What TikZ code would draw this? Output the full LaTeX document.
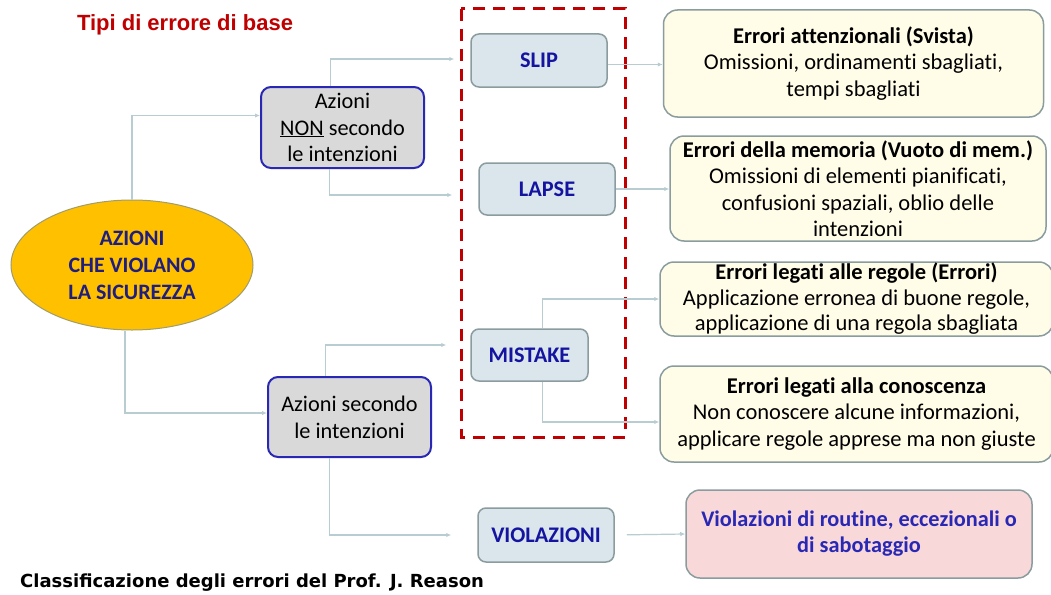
\documentclass[tikz,border=0pt]{standalone}
\usepackage{fontspec}
\setmainfont{Carlito}[Ligatures=NoCommon]
\newfontfamily\arialfont{Liberation Sans}
\newfontfamily\verdanafont{DejaVu Sans}
\usetikzlibrary{shapes.geometric,arrows.meta}

\definecolor{linkgray}{HTML}{B7CDD2}
\definecolor{boxedge}{HTML}{8A9C9E}
\definecolor{kindfill}{HTML}{DAE5EC}
\definecolor{kindblue}{HTML}{1414A0}
\definecolor{creamfill}{HTML}{FFFDE8}
\definecolor{pinkfill}{HTML}{F9D8DA}
\definecolor{actgray}{HTML}{D9D9D9}
\definecolor{actblue}{HTML}{2828B4}
\definecolor{safetyfill}{HTML}{FFC000}
\definecolor{safetyedge}{HTML}{A09C6C}
\definecolor{navytext}{HTML}{1E1E80}
\definecolor{darkred}{HTML}{C00000}

\begin{document}
\begin{tikzpicture}[x=1pt,y=-1pt,
    conn/.style={draw=linkgray,line width=1.2pt,-{Latex[length=5pt,width=4.5pt]}},
    kindbox/.style={draw=boxedge,fill=kindfill,line width=1.5pt,rounded corners=8pt,
      inner sep=0pt,text=kindblue,font=\fontsize{22.3}{26}\selectfont\bfseries},
    descbox/.style={draw=boxedge,fill=creamfill,line width=1.5pt,rounded corners=14pt,
      inner sep=0pt,align=center,font=\fontsize{22.5}{26.5}\selectfont},
    actbox/.style={draw=actblue,fill=actgray,line width=2pt,rounded corners=10pt,
      inner sep=0pt,align=center,font=\fontsize{22.3}{26.8}\selectfont}]
    \useasboundingbox[fill=white] (0,0) rectangle (1051,594);

    % Title and caption
    \node[text=darkred,font=\arialfont\fontsize{22}{26}\selectfont\bfseries] (title) at (185,25) {Tipi di errore di base};
    \node[anchor=west,inner sep=0pt,font=\verdanafont\fontsize{18}{21}\selectfont\bfseries] (caption) at (20,583) {Classificazione degli errori del Prof. J. Reason};

    % Dashed frame round the error kinds
    \draw[darkred,line width=3pt,dash pattern=on 12pt off 8pt] (461,9) rectangle (625,437);

    % Root and the two kinds of action
    \node[ellipse,draw=safetyedge,fill=safetyfill,line width=1pt,minimum width=242pt,minimum height=130pt,
      inner sep=0pt,align=center,text=navytext,font=\fontsize{22}{27}\selectfont\bfseries] (safety) at (132,265)
      {AZIONI\\CHE VIOLANO\\LA SICUREZZA};
    \node[actbox,minimum width=163pt,minimum height=81pt] (notint) at (342.5,127.5) {Azioni\\\underline{NON} secondo\\le intenzioni};
    \node[actbox,minimum width=163pt,minimum height=80pt] (inten) at (349.5,417) {Azioni secondo\\le intenzioni};

    % Error kinds
    \node[kindbox,minimum width=136pt,minimum height=53pt] (slip) at (539,60.5) {SLIP};
    \node[kindbox,minimum width=136pt,minimum height=52pt] (lapse) at (547,189) {LAPSE};
    \node[kindbox,minimum width=117pt,minimum height=52pt] (mistake) at (529.5,355) {MISTAKE};
    \node[kindbox,minimum width=136pt,minimum height=54pt] (viol) at (546,535) {VIOLAZIONI};

    % Descriptions
    \node[descbox,minimum width=380pt,minimum height=107pt] (attn) at (853.5,63.5)
      {\textbf{Errori attenzionali (Svista)}\\Omissioni, ordinamenti sbagliati,\\tempi sbagliati};
    \node[descbox,minimum width=376pt,minimum height=105pt] (memo) at (858,188.5)
      {\textbf{Errori della memoria (Vuoto di mem.)}\\Omissioni di elementi pianificati,\\confusioni spaziali, oblio delle\\intenzioni};
    \node[descbox,minimum width=393pt,minimum height=74pt,font=\fontsize{22.5}{25.5}\selectfont] (rules) at (856.5,299)
      {\textbf{Errori legati alle regole (Errori)}\\Applicazione erronea di buone regole,\\applicazione di una regola sbagliata};
    \node[descbox,minimum width=393pt,minimum height=96pt] (know) at (856.5,414)
      {\textbf{Errori legati alla conoscenza}\\Non conoscere alcune informazioni,\\applicare regole apprese ma non giuste};
    \node[descbox,fill=pinkfill,minimum width=346pt,minimum height=88pt,text=actblue,
      font=\fontsize{22.3}{26}\selectfont\bfseries] (routine) at (859,534)
      {Violazioni di routine, eccezionali o\\di sabotaggio};

    % Connectors
    \draw[conn] (safety.north) |- ([yshift=12pt]notint.west);
    \draw[conn] ([xshift=-7pt]safety.south) |- ([yshift=4pt]inten.west);
    \draw[conn] ([xshift=-12pt]notint.north) |- ([xshift=-16pt,yshift=1.5pt]slip.west);
    \draw[conn] ([xshift=-13pt]notint.south) |- ([xshift=-26pt,yshift=-6pt]lapse.west);
    \draw[conn] ([xshift=-24pt]inten.north) |- ([xshift=-24pt,yshift=10pt]mistake.west);
    \draw[conn] ([xshift=-20pt]inten.south) |- ([xshift=-26pt]viol.west);
    \draw[conn] ([yshift=-4pt]slip.east) -- ([yshift=-4pt]slip.east -| attn.west);
    \draw[conn] (lapse.east) -- (lapse.east -| memo.west);
    \draw[conn] ([xshift=13pt]mistake.north) |- (rules.west);
    \draw[conn] ([xshift=13pt]mistake.south) |- ([yshift=-8pt]know.west);
    \draw[conn,shorten <=12pt] (viol.east) -- (routine.west);
\end{tikzpicture}
\end{document}
